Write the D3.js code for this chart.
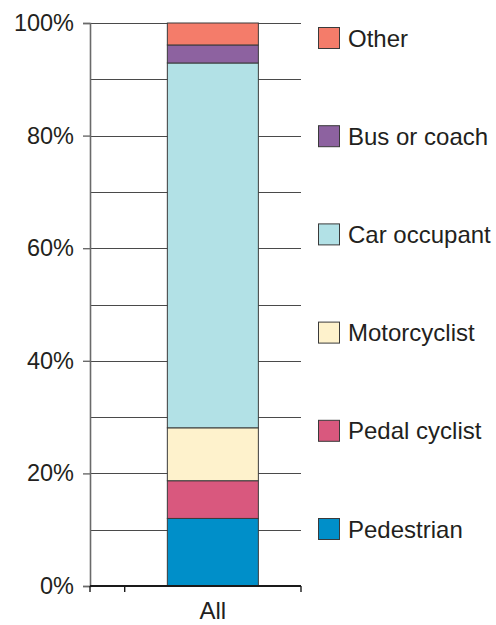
<!DOCTYPE html>
<html>
<head>
<meta charset="utf-8">
<script src="https://cdn.jsdelivr.net/npm/d3@7"></script>
<style>
  html, body { margin: 0; padding: 0; background: #fff; }
  svg { display: block; font-family: "Liberation Sans", Arial, Helvetica, sans-serif; }
</style>
</head>
<body>
<svg id="chart" width="496" height="625"></svg>
<script>
// Road casualties by road user type, share of all casualties (%)
const categories = ["All"];
const seriesNames = ["Pedestrian", "Pedal cyclist", "Motorcyclist", "Car occupant", "Bus or coach", "Other"];
const pedestrian   = [12.0];
const pedalCyclist = [6.7];
const motorcyclist = [9.4];
const carOccupant  = [64.8];
const busOrCoach   = [3.2];
const other        = [3.9];
const seriesColors = ["#008fc9", "#d9587e", "#fef2cc", "#b2e1e6", "#8d62a0", "#f47c6a"];
const yTickValues = [0, 20, 40, 60, 80, 100];
const yTickLabels = ["0%", "20%", "40%", "60%", "80%", "100%"];

const seriesValues = [pedestrian, pedalCyclist, motorcyclist, carOccupant, busOrCoach, other];
const rows = categories.map((c, i) => {
  const r = { category: c };
  seriesNames.forEach((s, j) => { r[s] = seriesValues[j][i]; });
  return r;
});

const svg = d3.select("#chart");
const plot = { left: 90, right: 301, top: 23, bottom: 586 };
const bandStart = 124.7;

const y = d3.scaleLinear().domain([0, 100]).range([plot.bottom, plot.top]);
const x = d3.scaleBand().domain(categories).range([bandStart, plot.right])
  .paddingInner(0.319).paddingOuter(0.319);
const color = d3.scaleOrdinal().domain(seriesNames).range(seriesColors);

// gridlines every 10%
svg.append("g")
  .selectAll("line")
  .data(d3.range(10, 101, 10))
  .join("line")
  .attr("x1", plot.left).attr("x2", plot.right)
  .attr("y1", d => Math.round(y(d)) + 0.5).attr("y2", d => Math.round(y(d)) + 0.5)
  .attr("stroke", "#4a4a4a").attr("stroke-width", 1);

// stacked bar
const stack = d3.stack().keys(seriesNames)(rows);
svg.append("g")
  .selectAll("g")
  .data(stack)
  .join("g")
  .attr("fill", d => color(d.key))
  .selectAll("rect")
  .data(d => d)
  .join("rect")
  .attr("x", d => x(d.data.category))
  .attr("width", x.bandwidth())
  .attr("y", d => y(d[1]))
  .attr("height", d => y(d[0]) - y(d[1]))
  .attr("stroke", "#3a3a3a").attr("stroke-width", 1);

// y axis
const yAxis = svg.append("g")
  .attr("transform", `translate(${plot.left},0)`)
  .call(d3.axisLeft(y).tickValues(yTickValues)
    .tickFormat((d, i) => yTickLabels[i]).tickSize(7).tickPadding(9));
yAxis.select(".domain").attr("stroke", "#6a6a6a").attr("stroke-width", 1.6);
yAxis.selectAll(".tick line").attr("stroke", "#6a6a6a").attr("stroke-width", 1.4);
yAxis.selectAll(".tick text")
  .attr("font-size", 23.5).attr("fill", "#231f20")
  .attr("font-family", "Liberation Sans, Arial, sans-serif");

// x axis: baseline with ticks at the category band edges
const xAxis = svg.append("g");
xAxis.append("line")
  .attr("x1", plot.left).attr("x2", plot.right)
  .attr("y1", plot.bottom).attr("y2", plot.bottom)
  .attr("stroke", "#1a1a1a").attr("stroke-width", 1.8);
xAxis.selectAll("line.tk")
  .data([plot.left, bandStart, plot.right])
  .join("line").attr("class", "tk")
  .attr("x1", d => d).attr("x2", d => d)
  .attr("y1", plot.bottom).attr("y2", plot.bottom + 6)
  .attr("stroke", "#1a1a1a").attr("stroke-width", 1.4);
xAxis.selectAll("text")
  .data(categories)
  .join("text")
  .attr("x", d => x(d) + x.bandwidth() / 2)
  .attr("y", 619)
  .attr("text-anchor", "middle")
  .attr("font-size", 24).attr("fill", "#231f20")
  .text(d => d);

// legend, top entry = top of stack
const legendNames = seriesNames.slice().reverse();
const legend = svg.append("g")
  .selectAll("g")
  .data(legendNames)
  .join("g")
  .attr("transform", (d, i) => `translate(318,${38 + i * 98.2})`);
legend.append("rect")
  .attr("x", 0.5).attr("y", -10.5)
  .attr("width", 21).attr("height", 21)
  .attr("fill", d => color(d))
  .attr("stroke", "#3a3a3a").attr("stroke-width", 1);
legend.append("text")
  .attr("x", 30).attr("y", 8.5)
  .attr("font-size", 24).attr("fill", "#231f20")
  .text(d => d);
</script>
</body>
</html>
